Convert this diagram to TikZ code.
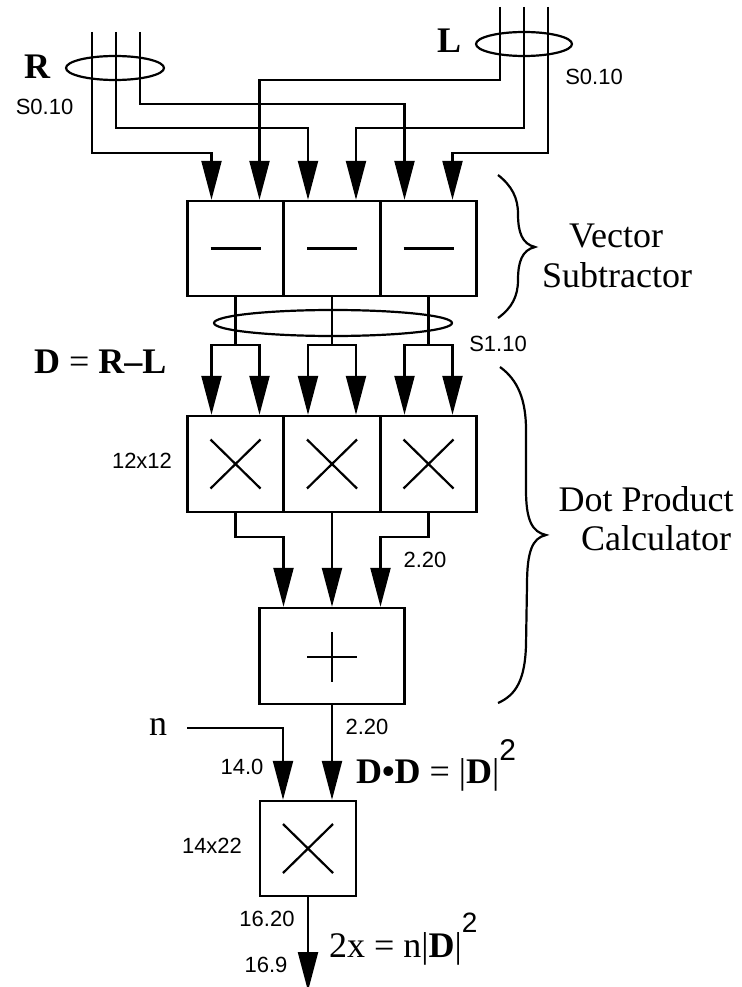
\documentclass[tikz,border=0pt]{standalone}
\usepackage{fontspec}
\setmainfont{Liberation Serif}
\setsansfont{Liberation Sans}
\usetikzlibrary{arrows.meta,calc}
\newcommand\bigserif{\fontsize{36}{40}\selectfont}
\newcommand\lblsans{\sffamily\fontsize{22}{24}\selectfont}
\newcommand\supsans[1]{\sffamily\fontsize{#1}{#1}\selectfont}
\begin{document}
\begin{tikzpicture}[x=1pt,y=-1pt,
  line width=2.2pt,
  box/.style={draw, rectangle, inner sep=0pt, minimum width=96pt, minimum height=95pt, line width=2.4pt},
  arr/.style={-{Triangle[length=39pt,width=20pt]}},
  lbl/.style={font=\lblsans, inner sep=0pt},
  big/.style={font=\bigserif, inner sep=0pt},
  bigb/.style={font=\bigserif\bfseries, inner sep=0pt},
  sym/.style={line width=2.2pt},
  brc/.style={line width=2.2pt}]
\clip (0,0) rectangle (741,987);
\fill[white] (0,0) rectangle (741,987);

% boxes
\node[box] (sub1) at (235.5,248.5) {};
\node[box] (sub2) at (332,248.5) {};
\node[box] (sub3) at (428.5,248.5) {};
\node[box, minimum height=96pt] (mul1) at (235.5,464) {};
\node[box, minimum height=96pt] (mul2) at (332,464) {};
\node[box, minimum height=96pt] (mul3) at (428.5,464) {};
\node[box, minimum width=145pt, minimum height=96pt] (add) at (332,656) {};
\node[box] (fmul) at (308,848.5) {};

% symbols
\foreach \b in {sub1,sub2,sub3}{
  \draw[sym] ([xshift=-25pt]\b.center) -- ([xshift=25pt]\b.center);
}
\foreach \b in {mul1,mul2,mul3,fmul}{
  \draw[sym] ($(\b.center)+(-25,-24.5)$) -- ($(\b.center)+(25,24.5)$);
  \draw[sym] ($(\b.center)+(-25,24.5)$) -- ($(\b.center)+(25,-24.5)$);
}
\draw[sym] ($(add.center)+(-25,1)$) -- ($(add.center)+(25,1)$);
\draw[sym] ($(add.center)+(0,-24)$) -- ($(add.center)+(0,26)$);

% input bundles
\coordinate (r1) at (92,32);
\coordinate (r2) at (116,32);
\coordinate (r3) at (140,32);
\coordinate (l1) at (500,7);
\coordinate (l2) at (524,7);
\coordinate (l3) at (548,7);
\draw[arr] (r1) -- ++(0,121) -| ([xshift=-24pt]sub1.north);
\draw[arr] (r2) -- ++(0,96) -| ([xshift=-24pt]sub2.north);
\draw[arr] (r3) -- ++(0,72) -| ([xshift=-24pt]sub3.north);
\draw[arr] (l1) -- ++(0,73) -| ([xshift=24pt]sub1.north);
\draw[arr] (l2) -- ++(0,121) -| ([xshift=24pt]sub2.north);
\draw[arr] (l3) -- ++(0,146) -| ([xshift=24pt]sub3.north);
\draw (115,68) ellipse [x radius=49pt, y radius=12pt];
\draw (524,44) ellipse [x radius=48pt, y radius=12pt];

% subtractor outputs
\foreach \i in {1,2,3}{
  \draw (sub\i.south) -- ++(0,48) coordinate (o\i);
  \draw[arr] (o\i) -| ([xshift=-24pt]mul\i.north);
  \draw[arr] (o\i) -| ([xshift=24pt]mul\i.north);
}
\draw (333,323) ellipse [x radius=119pt, y radius=13pt];

% multiplier outputs
\draw[arr] (mul1.south) -- ++(0,24) -| ([xshift=-48.5pt]add.north);
\draw[arr] (mul2.south) -- (add.north);
\draw[arr] (mul3.south) -- ++(0,24) -| ([xshift=48.5pt]add.north);

% adder output and final multiplier
\draw[arr] (add.south) -- (add.south |- fmul.north);
\coordinate (nin) at (187,728);
\draw[arr] (nin) -| ([xshift=-25pt]fmul.north);
\coordinate (out) at (308,991);
\draw[arr] (fmul.south) -- (out);

% braces
\draw[brc] (498,175) .. controls (512,186) and (518,198) .. (518,214)
  .. controls (518,232) and (522,244) .. (535,247)
  .. controls (522,250) and (518,262) .. (518,280)
  .. controls (518,296) and (512,308) .. (498,318);
\draw[brc] (500,367) .. controls (518,380) and (526,400) .. (526,430)
  -- (526,490) .. controls (526,520) and (532,532) .. (546,535)
  .. controls (532,538) and (527,552) .. (527,585)
  -- (526,645) .. controls (525,680) and (516,695) .. (498,703);

% labels
\node[bigb] (Rlbl) at (37,67) {R};
\node[lbl] (s0r) at (44.5,106.5) {S0.10};
\node[bigb] (Llbl) at (449,41) {L};
\node[lbl] (s0l) at (594,77) {S0.10};
\node[lbl] (s1lbl) at (498,344) {S1.10};
\node[big, anchor=base west] (dlbl) at (33,373) {\textbf{D} = \textbf{R–L}};
\node[lbl] (m12) at (142,461) {12x12};
\node[lbl] (w220a) at (425,560) {2.20};
\node[big, anchor=base] (vec) at (616,247) {Vector};
\node[big, anchor=base] (subt) at (617,287) {Subtractor};
\node[big, anchor=base] (dotp) at (646,511) {Dot Product};
\node[big, anchor=base] (calc) at (656,550) {Calculator};
\node[big, anchor=base] (nlbl) at (158,735) {n};
\node[lbl] (w220b) at (367,727) {2.20};
\node[lbl] (w140) at (242,767) {14.0};
\node[big, anchor=base west] (ddlbl) at (355,783) {\textbf{D•D} = |\textbf{D}|\raisebox{23pt}{\supsans{30}2}};
\node[lbl] (m1422) at (212,846) {14x22};
\node[lbl] (w1620) at (267,919) {16.20};
\node[lbl] (w169) at (266,965) {16.9};
\node[big, anchor=base west] (xlbl) at (328,957) {2x = n|\textbf{D}|\raisebox{25pt}{\supsans{28}2}};
\end{tikzpicture}
\end{document}
